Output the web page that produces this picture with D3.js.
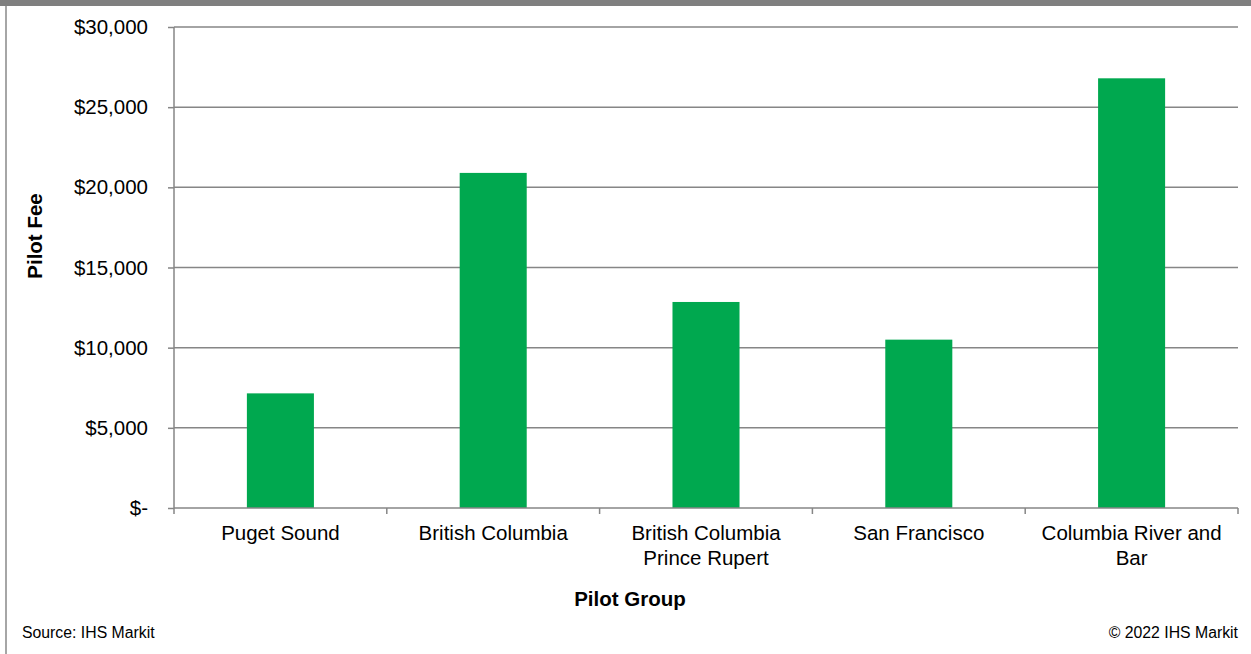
<!DOCTYPE html>
<html><head><meta charset="utf-8">
<script src="https://cdn.jsdelivr.net/npm/d3@7"></script>
<style>body{margin:0;background:#fff;}svg{display:block;font-family:"Liberation Sans",Arial,sans-serif;}</style>
</head><body>
<svg id="c" width="1251" height="654"></svg>
<script>
const categories = [["Puget Sound"], ["British Columbia"], ["British Columbia", "Prince Rupert"], ["San Francisco"], ["Columbia River and", "Bar"]];
const values = [7150, 20900, 12850, 10500, 26800];
const yTicks = [0, 5000, 10000, 15000, 20000, 25000, 30000];

const svg = d3.select("#c");
const W = 1251, H = 654;
const m = {l: 174, r: 1238, t: 27, b: 508};

// top bar and left border
svg.append("rect").attr("x",0).attr("y",0).attr("width",W).attr("height",6).attr("fill","#7f7f7f");
svg.append("rect").attr("x",5).attr("y",6).attr("width",2).attr("height",H-6).attr("fill","#a6a6a6");

const x = d3.scaleBand().domain(d3.range(categories.length)).range([m.l, m.r]).paddingInner(0.685).paddingOuter(0.3425);
const y = d3.scaleLinear().domain([0, 30000]).range([m.b, m.t]);

// gridlines
svg.append("g").selectAll("line").data(yTicks.filter(d=>d>0)).join("line")
  .attr("x1", m.l).attr("x2", m.r).attr("y1", d=>y(d)).attr("y2", d=>y(d))
  .attr("stroke","#868686").attr("stroke-width",1.5);

// bars
svg.append("g").selectAll("rect").data(values).join("rect")
  .attr("x",(d,i)=>x(i)).attr("width",x.bandwidth())
  .attr("y",d=>y(d)).attr("height",d=>y(0)-y(d)).attr("fill","#00a84f");

// y axis
const fmt = d => d === 0 ? "$-" : "$" + d3.format(",")(d);
const ya = svg.append("g").attr("transform",`translate(${m.l},0)`)
  .call(d3.axisLeft(y).tickValues(yTicks).tickFormat(fmt).tickSize(6).tickPadding(20));
ya.select(".domain").attr("stroke","#868686").attr("stroke-width",1.5).attr("d",`M-0,${m.t}V${m.b}`);
ya.selectAll(".tick line").attr("stroke","#868686").attr("stroke-width",1.5);
ya.selectAll(".tick text").attr("font-size",20.5).attr("fill","#000").attr("font-family","Liberation Sans, Arial, sans-serif");

// x axis
const bw = (m.r - m.l)/categories.length;
const xa = svg.append("g");
xa.append("line").attr("x1",m.l).attr("x2",m.r).attr("y1",m.b).attr("y2",m.b).attr("stroke","#868686").attr("stroke-width",1.5);
xa.selectAll("line.t").data(d3.range(categories.length+1)).join("line").attr("class","t")
  .attr("x1",i=>m.l+i*bw).attr("x2",i=>m.l+i*bw).attr("y1",m.b).attr("y2",m.b+6)
  .attr("stroke","#868686").attr("stroke-width",1.5);
const lbl = xa.selectAll("text").data(categories).join("text")
  .attr("text-anchor","middle").attr("font-size",20.5).attr("fill","#000")
  .attr("transform",(d,i)=>`translate(${x(i)+x.bandwidth()/2},${m.b+32})`);
lbl.selectAll("tspan").data(d=>d).join("tspan").attr("x",0).attr("dy",(d,j)=>j===0?0:25).text(d=>d);

// axis titles
svg.append("text").attr("x",630).attr("y",606).attr("text-anchor","middle")
  .attr("font-size",20.5).attr("font-weight","bold").text("Pilot Group");
svg.append("text").attr("transform",`translate(42,236) rotate(-90)`).attr("text-anchor","middle")
  .attr("font-size",20.5).attr("font-weight","bold").text("Pilot Fee");

// footer
svg.append("text").attr("x",22).attr("y",638).attr("font-size",15.8).text("Source: IHS Markit");
svg.append("text").attr("x",1238).attr("y",638).attr("text-anchor","end").attr("font-size",15.8).text("© 2022 IHS Markit");
</script>
</body></html>
